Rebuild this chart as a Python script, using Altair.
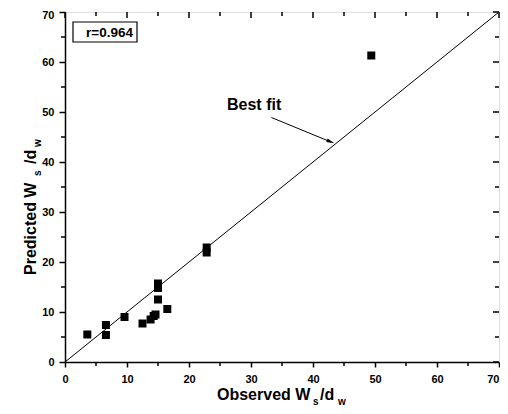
import altair as alt
import pandas as pd

# Observed vs predicted Ws/dw
observed = [3.6, 6.6, 6.6, 9.6, 12.5, 13.8, 14.3, 14.6, 15.0, 15.0, 15.0, 16.5, 22.85, 22.85, 49.4]
predicted = [5.5, 7.4, 5.4, 9.0, 7.7, 8.5, 9.2, 9.5, 12.5, 14.8, 15.7, 10.6, 21.9, 22.9, 61.3]

fit_x = [0, 70]
fit_y = [0, 70]

major_ticks = [0, 10, 20, 30, 40, 50, 60, 70]
minor_ticks = [5, 15, 25, 35, 45, 55, 65]

r_label = ["r=0.964"]
fit_label = ["Best fit"]
x_title = ["Observed W", "s", "/d", "w"]
y_title = ["Predicted W", "s", "/d", "w"]

FONT = "Liberation Sans"
W, H = 434, 350

xs = alt.Scale(domain=[0, 70], nice=False, zero=False)
ys = alt.Scale(domain=[0, 70], nice=False, zero=False)

axis_common = dict(
    values=major_ticks, grid=False, domainColor="black", domainWidth=1.5,
    tickColor="black", tickWidth=1.5, labelFont=FONT, labelFontSize=11,
    labelFontWeight="bold", labelColor="black", labelFlush=False,
    labelOverlap=False, title=None,
)

pts = pd.DataFrame({"obs": observed, "pred": predicted})
points = alt.Chart(pts).mark_point(shape="square", filled=True, size=64, color="black", opacity=1).encode(
    x=alt.X("obs:Q", scale=xs, axis=alt.Axis(
        tickSize=5, labelPadding=6,
        labelAlign=alt.condition("datum.value >= 70", alt.value("right"), alt.value("center")),
        **axis_common)),
    y=alt.Y("pred:Q", scale=ys, axis=alt.Axis(
        tickSize=6, labelPadding=5,
        labelOffset=alt.condition("datum.value >= 70", alt.value(3), alt.value(0)),
        **axis_common)),
)

fit = alt.Chart(pd.DataFrame({"x": fit_x, "y": fit_y})).mark_line(color="black", strokeWidth=1).encode(
    x=alt.X("x:Q", scale=xs), y=alt.Y("y:Q", scale=ys)
)

maj = pd.DataFrame({"t": major_ticks})
mnr = pd.DataFrame({"t": minor_ticks})
tw = 1.5
top_major = alt.Chart(maj).mark_rule(color="black", strokeWidth=tw).encode(
    x=alt.X("t:Q", scale=xs), y=alt.value(0), y2=alt.value(6))
top_minor = alt.Chart(mnr).mark_rule(color="black", strokeWidth=tw).encode(
    x=alt.X("t:Q", scale=xs), y=alt.value(0), y2=alt.value(4))
bot_minor = alt.Chart(mnr).mark_rule(color="black", strokeWidth=tw).encode(
    x=alt.X("t:Q", scale=xs), y=alt.value(H), y2=alt.value(H + 4))
right_major = alt.Chart(maj).mark_rule(color="black", strokeWidth=tw).encode(
    y=alt.Y("t:Q", scale=ys), x=alt.value(W), x2=alt.value(W - 6))
right_minor = alt.Chart(mnr).mark_rule(color="black", strokeWidth=tw).encode(
    y=alt.Y("t:Q", scale=ys), x=alt.value(W), x2=alt.value(W - 4))
left_minor = alt.Chart(mnr).mark_rule(color="black", strokeWidth=tw).encode(
    y=alt.Y("t:Q", scale=ys), x=alt.value(0), x2=alt.value(-4))

one = pd.DataFrame({"k": [0]})
arrow_line = alt.Chart(one).mark_rule(color="black", strokeWidth=1).encode(
    x=alt.datum(33.3), y=alt.datum(48.9), x2=alt.datum(42.9), y2=alt.datum(44.0))
arrow_head = alt.Chart(one).mark_point(
    shape="M-1,-0.45L1,0L-1,0.45Z", filled=True, size=64, color="black", opacity=1, angle=22
).encode(x=alt.datum(42.85), y=alt.datum(44.05))

fit_text = alt.Chart(pd.DataFrame({"t": fit_label})).mark_text(
    font=FONT, fontSize=16, fontWeight="bold", align="left", baseline="alphabetic", color="black"
).encode(text="t:N", x=alt.value(162), y=alt.value(97.5))

box = alt.Chart(one).mark_rect(fill="white", stroke="black", strokeWidth=1.2).encode(
    x=alt.value(8), x2=alt.value(72), y=alt.value(10), y2=alt.value(30))
r_text = alt.Chart(pd.DataFrame({"t": r_label})).mark_text(
    font=FONT, fontSize=13.5, fontWeight="bold", align="right", baseline="alphabetic", color="black"
).encode(text="t:N", x=alt.value(68), y=alt.value(24.7))


def piece(txt, x, y, size, angle=0):
    return alt.Chart(pd.DataFrame({"t": [txt]})).mark_text(
        font=FONT, fontSize=size, fontWeight="bold", align="left", baseline="alphabetic",
        color="black", angle=angle
    ).encode(text="t:N", x=alt.value(x), y=alt.value(y))


xt = [
    piece(x_title[0], 152, 388, 16),
    piece(x_title[1], 248, 393, 10),
    piece(x_title[2], 255, 388, 16),
    piece(x_title[3], 273, 393, 10),
]
yt = [
    piece(y_title[0], -29, 263, 16, 270),
    piece(y_title[1], -24, 164, 10, 270),
    piece(y_title[2], -29, 152, 16, 270),
    piece(y_title[3], -24, 135, 10, 270),
]

chart = alt.layer(
    fit, top_major, top_minor, bot_minor, right_major, right_minor, left_minor,
    arrow_line, arrow_head, fit_text, box, r_text, points, *xt, *yt
).properties(
    width=W, height=H, autosize="none",
    padding={"left": 57, "top": 4, "right": 1, "bottom": 44},
).configure_view(stroke="black", strokeWidth=1.5).configure(background="white")

chart.save("out.html", embed_options={"renderer": "svg", "actions": False})
